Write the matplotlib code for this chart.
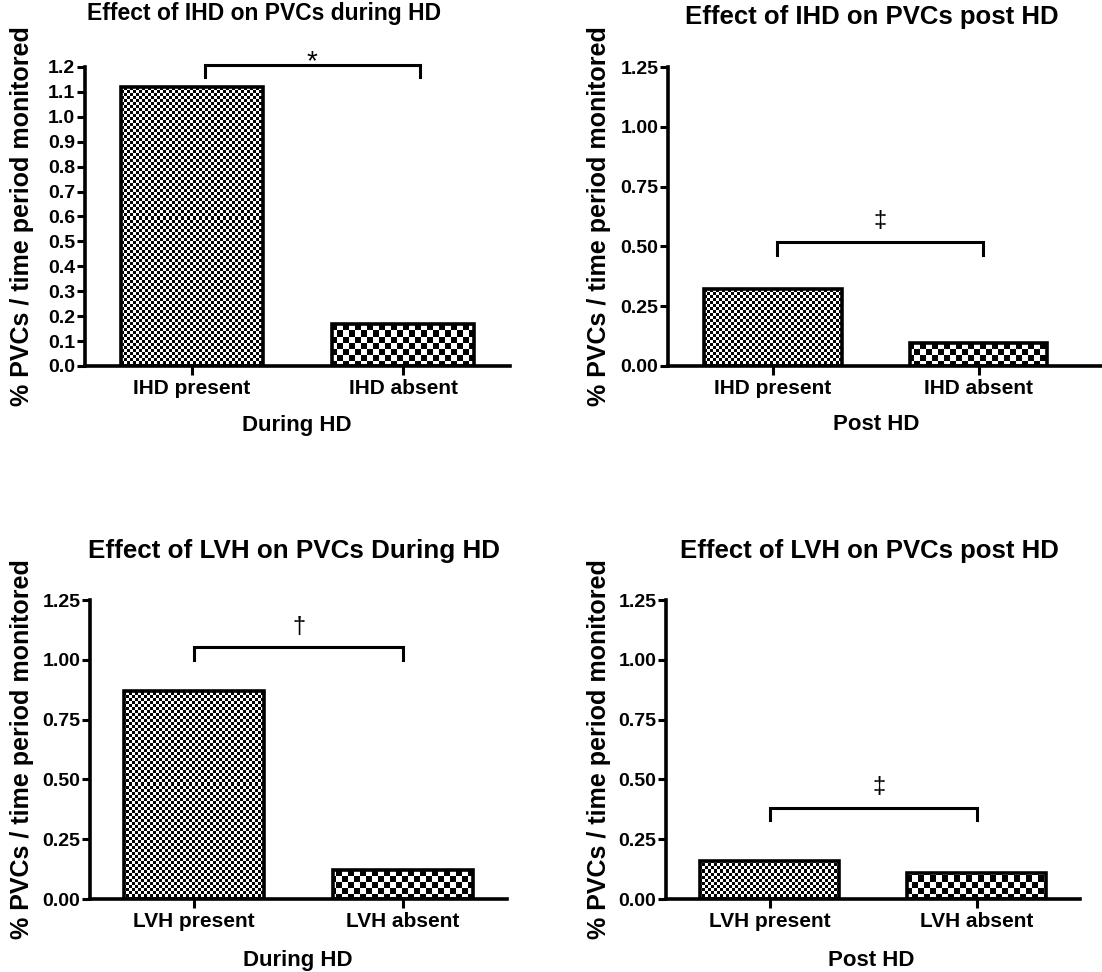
import numpy as np
import matplotlib
matplotlib.use("Agg")
import matplotlib.pyplot as plt

plt.rcParams['font.family'] = ['Liberation Sans', 'DejaVu Sans']
plt.rcParams['font.weight'] = 'bold'

# --------------- data ---------------
cats_ihd = ["IHD present", "IHD absent"]
cats_lvh = ["LVH present", "LVH absent"]
ihd_during = [1.12, 0.17]
ihd_post = [0.32, 0.095]
lvh_during = [0.87, 0.12]
lvh_post = [0.16, 0.11]

titles = ["Effect of IHD on PVCs during HD", "Effect of IHD on PVCs post HD",
          "Effect of LVH on PVCs During HD", "Effect of LVH on PVCs post HD"]
xlabels = ["During HD", "Post HD", "During HD", "Post HD"]
ylab = "% PVCs / time period monitored"

# significance brackets: x from/to, bar height, drop height, symbol, symbol baseline
sig_x = [(0.06, 1.08), (0.02, 1.02), (0.0, 1.0), (0.0, 1.0)]
sig_y = [1.208, 0.52, 1.053, 0.38]
sig_drop = [1.16, 0.465, 1.0, 0.33]
sig_sym = ["*", "\u2021", "\u2020", "\u2021"]
sig_sym_x = [0.57, 0.52, 0.50, 0.53]
sig_sym_y = [1.19, 0.581, 1.112, 0.443]
sig_sym_fs = [20, 17, 17, 17]

W, H = 1102, 972
fig = plt.figure(figsize=(W / 100, H / 100), dpi=100)

# axes boxes in pixels: left, top(y=ymax), right, bottom(y=0)
boxes = [(85, 67, 510, 366), (668, 67, 1102, 366),
         (90, 600, 507, 899), (666, 600, 1080, 899)]
xlims = [(-0.507, 1.507), (-0.51, 1.6), (-0.5, 1.5), (-0.5, 1.5)]
ylims = [1.2, 1.25, 1.25, 1.25]
title_pos = [(264, 22, 16.5), (872, 25, 18.5), (294, 559, 18.7), (869, 559, 18.5)]
xlab_pos = [(297, 425), (876, 425), (298, 960), (871, 960)]
ylab_x = [22, 599, 22, 599]

datasets = [(cats_ihd, ihd_during), (cats_ihd, ihd_post),
            (cats_lvh, lvh_during), (cats_lvh, lvh_post)]


def checker(wpx, hpx, s):
    yy, xx = np.mgrid[0:hpx, 0:wpx]
    return ((xx // s + yy // s) % 2).astype(float)


for i, (cats, vals) in enumerate(datasets):
    l, t, r, b = boxes[i]
    ax = fig.add_axes([l / W, 1 - b / H, (r - l) / W, (b - t) / H])
    x = np.arange(len(cats))
    bars = ax.bar(x, vals, width=0.67, facecolor='none', edgecolor='black',
                  linewidth=2.6, zorder=3)
    # checker fills clipped to each bar
    wpx, hpx = r - l, b - t
    for bar, s in zip(bars, [3, 6]):
        im = ax.imshow(checker(wpx, hpx, s), extent=(0, 1, 0, 1), transform=ax.transAxes,
                       cmap='gray', interpolation='nearest', aspect='auto', zorder=2)
        im.set_clip_path(bar)

    ax.set_xlim(*xlims[i])
    ax.set_ylim(0, ylims[i])
    if i == 0:
        ax.set_yticks(np.arange(0, 1.21, 0.1))
        ax.set_yticklabels([f"{v:.1f}" for v in np.arange(0, 1.21, 0.1)])
    else:
        ax.set_yticks(np.arange(0, 1.26, 0.25))
        ax.set_yticklabels([f"{v:.2f}" for v in np.arange(0, 1.26, 0.25)])
    ax.set_xticks(x)
    ax.set_xticklabels(cats)

    for sp in ['top', 'right']:
        ax.spines[sp].set_visible(False)
    for sp in ['left', 'bottom']:
        ax.spines[sp].set_linewidth(2.6)
    ax.tick_params(axis='y', length=6, width=2.2, labelsize=14, pad=1)
    ax.tick_params(axis='x', length=6.5, width=2.2, labelsize=15, pad=3)

    tx, ty, tfs = title_pos[i]
    ax.set_title(titles[i], fontsize=tfs, fontweight='bold', va='center',
                 x=(tx - l) / wpx, y=(b - ty) / hpx)
    ax.set_xlabel(xlabels[i], fontsize=16, fontweight='bold', va='center')
    ax.xaxis.set_label_coords(xlab_pos[i][0] / W, 1 - xlab_pos[i][1] / H,
                              transform=fig.transFigure)
    ax.set_ylabel(ylab, fontsize=18, fontweight='bold', va='center')
    ax.yaxis.set_label_coords(ylab_x[i] / W, 1 - (t + b) / 2 / H,
                              transform=fig.transFigure)

    # significance bracket
    x0, x1 = sig_x[i]
    ax.plot([x0, x0, x1, x1], [sig_drop[i], sig_y[i], sig_y[i], sig_drop[i]],
            color='black', lw=2.2, clip_on=False, solid_joinstyle='miter', zorder=4)
    ax.text(sig_sym_x[i], sig_sym_y[i], sig_sym[i], ha='center', va='baseline',
            fontsize=sig_sym_fs[i], fontweight='normal', clip_on=False)

fig.savefig("out.png", dpi=100)
